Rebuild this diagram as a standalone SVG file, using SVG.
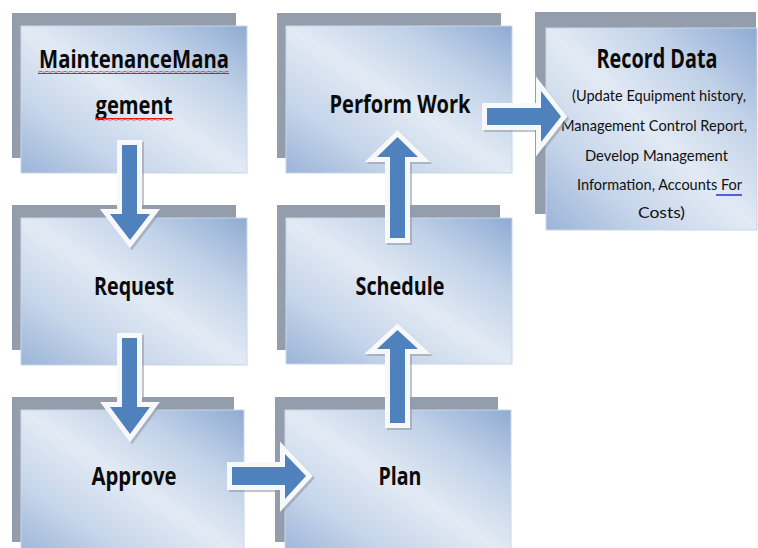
<svg xmlns="http://www.w3.org/2000/svg" width="758" height="548" viewBox="0 0 758 548">
  <defs>
    <linearGradient id="boxFill" x1="1" y1="0" x2="0" y2="1">
      <stop offset="0" stop-color="#8fabd3"/>
      <stop offset="0.25" stop-color="#c0d1e8"/>
      <stop offset="0.5" stop-color="#e2eaf4"/>
      <stop offset="0.75" stop-color="#c6d5ea"/>
      <stop offset="1" stop-color="#9ab4d8"/>
    </linearGradient>
    <pattern id="squiggle" width="6" height="3" patternUnits="userSpaceOnUse">
      <path d="M0 1.9 Q1.5 0.9 3 1.5 T6 1.5" fill="none" stroke="#e01818" stroke-width="1.7"/>
    </pattern>
  </defs>
  <style>
    .back { fill: #939dac; }
    .front { fill: url(#boxFill); stroke: #c9d6e8; stroke-width: 1; }
    .title { font-family: "Open Sans", "Liberation Sans", sans-serif; font-weight: 700; font-size: 25px; fill: #0a0a0a; text-anchor: middle; }
    .body { font-family: "Lato", "Liberation Sans", sans-serif; font-size: 15px; fill: #111; text-anchor: middle; }
    .arrow { fill: #4f81bd; stroke: #f7f8fa; stroke-width: 10; stroke-linejoin: miter; paint-order: stroke fill; }
    .arrow-shadow { fill: #8e98a5; stroke: #8e98a5; stroke-width: 10; stroke-linejoin: miter; opacity: 0.55; }
  </style>

  <rect width="758" height="548" fill="#ffffff"/>

  <!-- process steps: grey backing card with gradient card on top -->
  <g id="maintenance-management">
    <rect class="back" x="12" y="13" width="224" height="145"/>
    <rect class="front" x="21" y="26" width="226" height="147"/>
    <text class="title" x="134" y="68" textLength="190" lengthAdjust="spacingAndGlyphs">MaintenanceMana</text>
    <text class="title" x="134" y="114" textLength="77" lengthAdjust="spacingAndGlyphs">gement</text>
    <rect x="38" y="71" width="191" height="3" fill="url(#squiggle)"/>
    <rect x="95" y="118" width="78" height="3" fill="url(#squiggle)"/>
  </g>

  <g id="request">
    <rect class="back" x="12" y="205" width="224" height="145"/>
    <rect class="front" x="21" y="218" width="226" height="147"/>
    <text class="title" x="134" y="295" textLength="80" lengthAdjust="spacingAndGlyphs">Request</text>
  </g>

  <g id="approve">
    <rect class="back" x="12" y="397" width="222" height="145"/>
    <rect class="front" x="21" y="410" width="223" height="147"/>
    <text class="title" x="134" y="485" textLength="85" lengthAdjust="spacingAndGlyphs">Approve</text>
  </g>

  <g id="plan">
    <rect class="back" x="275" y="397" width="223" height="145"/>
    <rect class="front" x="285" y="410" width="226" height="147"/>
    <text class="title" x="400" y="485" textLength="43" lengthAdjust="spacingAndGlyphs">Plan</text>
  </g>

  <g id="schedule">
    <rect class="back" x="277" y="205" width="223" height="145"/>
    <rect class="front" x="286" y="218" width="226" height="146"/>
    <text class="title" x="400" y="295" textLength="89" lengthAdjust="spacingAndGlyphs">Schedule</text>
  </g>

  <g id="perform-work">
    <rect class="back" x="277" y="13" width="224" height="145"/>
    <rect class="front" x="286" y="26" width="226" height="147"/>
    <text class="title" x="400" y="113" textLength="141" lengthAdjust="spacingAndGlyphs">Perform Work</text>
  </g>

  <g id="record-data">
    <rect class="back" x="535" y="12" width="221" height="202"/>
    <rect class="front" x="546" y="28" width="211" height="202"/>
    <text class="title" x="657" y="68" style="font-size:26px" textLength="121" lengthAdjust="spacingAndGlyphs">Record Data</text>
    <text class="body" x="659" y="101" textLength="174" lengthAdjust="spacingAndGlyphs">(Update Equipment history,</text>
    <text class="body" x="654" y="131" textLength="186" lengthAdjust="spacingAndGlyphs">Management Control Report,</text>
    <text class="body" x="656.5" y="161" textLength="143" lengthAdjust="spacingAndGlyphs">Develop Management</text>
    <text class="body" x="659.5" y="190" textLength="165" lengthAdjust="spacingAndGlyphs">Information, Accounts For</text>
    <text class="body" x="661.5" y="218" textLength="47" lengthAdjust="spacingAndGlyphs">Costs)</text>
    <line x1="716" y1="195" x2="742" y2="195" stroke="#2233cc" stroke-width="1.5"/>
  </g>

  <!-- block arrows between steps -->
  <g id="connectors">
    <!-- Maintenance Management -> Request -->
    <polygon class="arrow-shadow" transform="translate(2,2)" points="122,145 137,145 137,214 150,214 130,240 110,214 122,214"/>
    <polygon class="arrow" points="122,145 137,145 137,214 150,214 130,240 110,214 122,214"/>
    <!-- Request -> Approve -->
    <polygon class="arrow-shadow" transform="translate(2,2)" points="122,338 137,338 137,407 150,407 130,434 110,407 122,407"/>
    <polygon class="arrow" points="122,338 137,338 137,407 150,407 130,434 110,407 122,407"/>
    <!-- Approve -> Plan -->
    <polygon class="arrow-shadow" transform="translate(2,2)" points="232,467 285,467 285,454 306,476 285,499 285,485 232,485"/>
    <polygon class="arrow" points="232,467 285,467 285,454 306,476 285,499 285,485 232,485"/>
    <!-- Plan -> Schedule -->
    <polygon class="arrow-shadow" transform="translate(2,2)" points="390,423 405,423 405,349 418,349 397.5,330 377,349 390,349"/>
    <polygon class="arrow" points="390,423 405,423 405,349 418,349 397.5,330 377,349 390,349"/>
    <!-- Schedule -> Perform Work -->
    <polygon class="arrow-shadow" transform="translate(2,2)" points="390,238 405,238 405,157 418,157 397.5,137 377,157 390,157"/>
    <polygon class="arrow" points="390,238 405,238 405,157 418,157 397.5,137 377,157 390,157"/>
    <!-- Perform Work -> Record Data -->
    <polygon class="arrow-shadow" transform="translate(2,2)" points="487,108 541,108 541,91 561,116.5 541,142 541,125 487,125"/>
    <polygon class="arrow" points="487,108 541,108 541,91 561,116.5 541,142 541,125 487,125"/>
  </g>
</svg>
